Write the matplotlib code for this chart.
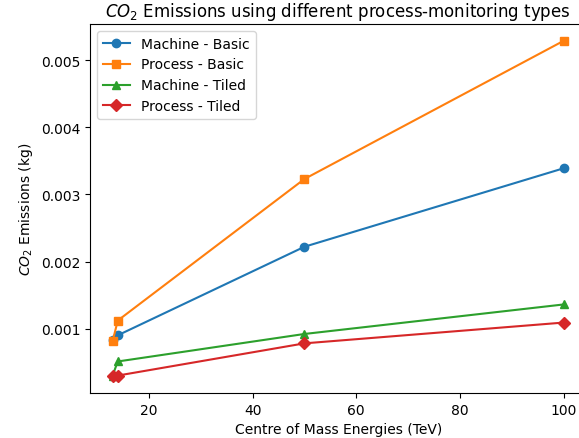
import matplotlib
matplotlib.use("Agg")
import matplotlib.pyplot as plt

energies = [13, 14, 50, 100]
machine_basic = [0.00083, 0.00090, 0.00222, 0.00339]
process_basic = [0.00081, 0.00112, 0.00323, 0.00529]
machine_tiled = [0.00030, 0.00051, 0.00092, 0.00136]
process_tiled = [0.00029, 0.00030, 0.00078, 0.00109]

fig = plt.figure(figsize=(5.79, 4.39), dpi=100)
ax = fig.add_axes([0.1555, 0.1025, 0.857, 0.8405])

ax.plot(energies, machine_basic, marker='o', label='Machine - Basic')
ax.plot(energies, process_basic, marker='s', label='Process - Basic')
ax.plot(energies, machine_tiled, marker='^', label='Machine - Tiled')
ax.plot(energies, process_tiled, marker='D', label='Process - Tiled')

ax.set_xlabel('Centre of Mass Energies (TeV)')
ax.set_ylabel('$CO_2$ Emissions (kg)')
ax.set_title('$CO_2$ Emissions using different process-monitoring types')
ax.legend(loc='upper left')

fig.savefig('out.png', dpi=100)
